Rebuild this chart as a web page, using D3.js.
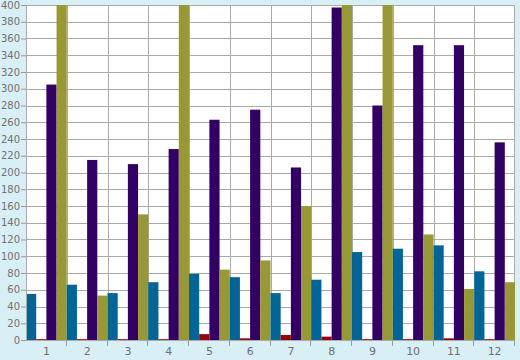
<!DOCTYPE html>
<html><head><meta charset="utf-8">
<script src="https://cdn.jsdelivr.net/npm/d3@7"></script>
<style>body{margin:0;background:#d9eff6;}svg{display:block;}</style>
</head><body>
<svg id="c" width="520" height="360"></svg>
<script>
const categories = ["1","2","3","4","5","6","7","8","9","10","11","12"];
const seriesNames = ["blue","red","purple","olive"];
const blueVals   = [55, 66, 56, 69, 79, 75, 56, 72, 105, 109, 113, 82];
const redVals    = [1, 1, 1, 1, 7, 2, 6, 4, 1, 1, 2, 1];
const purpleVals = [305, 215, 210, 228, 263, 275, 206, 397, 280, 352, 352, 236];
const oliveVals  = [430, 53, 150, 430, 84, 95, 160, 430, 430, 126, 61, 69];
const colors = ["#006699", "#990000", "#330066", "#999933"];
const yTicks = d3.range(0, 401, 20);

const svg = d3.select("#c");
const L = 26, R = 515, T = 5, B = 340;
const x = d3.scaleBand().domain(categories).range([L, R]).padding(0);
const xs = d3.scaleBand().domain(seriesNames).range([0, x.bandwidth()]).padding(0);
const y = d3.scaleLinear().domain([0, 400]).range([B, T]);
const data = [blueVals, redVals, purpleVals, oliveVals];

svg.append("rect").attr("x", L).attr("y", T).attr("width", R - L).attr("height", B - T).attr("fill", "#fff");
svg.append("defs").append("clipPath").attr("id", "clip").append("rect")
  .attr("x", L).attr("y", T).attr("width", R - L).attr("height", B - T);

// gridlines
const grid = svg.append("g").attr("stroke", "#aaaaaa").attr("stroke-width", 1);
yTicks.forEach(t => grid.append("line").attr("x1", L).attr("x2", R)
  .attr("y1", Math.round(y(t)) + 0.5).attr("y2", Math.round(y(t)) + 0.5));
categories.forEach((c, i) => grid.append("line")
  .attr("x1", Math.round(x(c)) + 0.5).attr("x2", Math.round(x(c)) + 0.5).attr("y1", T).attr("y2", B));
grid.append("line").attr("x1", R - 0.5).attr("x2", R - 0.5).attr("y1", T).attr("y2", B);

// bars
const bars = svg.append("g").attr("clip-path", "url(#clip)");
categories.forEach((c, i) => {
  seriesNames.forEach((s, j) => {
    const v = data[j][i];
    bars.append("rect")
      .attr("x", x(c) + xs(s))
      .attr("width", xs.bandwidth())
      .attr("y", y(v))
      .attr("height", y(0) - y(v))
      .attr("fill", colors[j]);
  });
});

// y axis
const yAxis = svg.append("g").attr("transform", `translate(${L},0)`)
  .call(d3.axisLeft(y).tickValues(yTicks).tickSize(5).tickPadding(1));
yAxis.select(".domain").attr("stroke", "#aaaaaa");
yAxis.selectAll(".tick line").attr("stroke", "#999999");
yAxis.selectAll("text").attr("fill", "#707070").style("font-family", "DejaVu Sans, Verdana, sans-serif").style("font-size", "10px");

// x axis
const xAxis = svg.append("g").attr("transform", `translate(0,${B})`)
  .call(d3.axisBottom(x).tickSize(0).tickPadding(7));
xAxis.select(".domain").remove();
xAxis.selectAll("text").attr("fill", "#707070").style("font-family", "DejaVu Sans, Verdana, sans-serif").style("font-size", "11px");
const xt = svg.append("g").attr("stroke", "#999999");
categories.forEach(c => xt.append("line")
  .attr("x1", Math.round(x(c) + x.bandwidth()) - 0.5).attr("x2", Math.round(x(c) + x.bandwidth()) - 0.5)
  .attr("y1", B).attr("y2", B + 6));
</script>
</body></html>
